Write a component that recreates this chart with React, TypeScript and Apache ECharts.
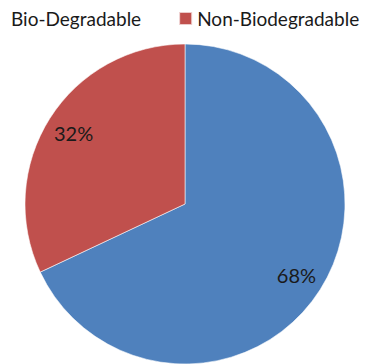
import React, { useEffect, useRef } from "react";
import * as echarts from "echarts";

// Share of waste by type
const categories = ["Bio-Degradable", "Non-Biodegradable"];
const shares = [68, 32];
const colors = ["#4F81BD", "#C0504D"];

const FONT = "Lato, 'Open Sans', sans-serif";

export default function App() {
  const ref = useRef<HTMLDivElement>(null);

  useEffect(() => {
    if (!ref.current) return;
    const chart = echarts.init(ref.current, undefined, { renderer: "svg" });
    const data = categories.map((name, i) => ({ name, value: shares[i] }));

    chart.setOption({
      animation: false,
      backgroundColor: "#ffffff",
      color: colors,
      legend: {
        left: -15,
        top: 9,
        padding: 0,
        width: 600,
        icon: "rect",
        itemWidth: 13,
        itemHeight: 13,
        itemGap: 37,
        selectedMode: false,
        formatter: (name: string) =>
          name === categories[0] ? `{gap|}${name}` : name,
        textStyle: {
          fontFamily: FONT,
          fontSize: 19,
          color: "#1a1a1a",
          rich: { gap: { width: 7 } },
        },
        data: categories,
      },
      series: [
        {
          type: "pie",
          center: [185, 204],
          radius: 160,
          startAngle: 90,
          clockwise: true,
          label: { show: false },
          labelLine: { show: false },
          itemStyle: { borderColor: "rgba(255,255,255,0.7)", borderWidth: 0.8 },
          emphasis: { disabled: true },
          data,
        },
        {
          // transparent ring that only carries the percentage labels
          type: "pie",
          center: [185, 204],
          radius: [98, 160],
          startAngle: 90,
          clockwise: true,
          silent: true,
          itemStyle: { color: "transparent", borderWidth: 0 },
          label: {
            show: true,
            position: "inside",
            formatter: "{d}%",
            fontFamily: FONT,
            fontSize: 20,
            color: "#1a1a1a",
          },
          labelLine: { show: false },
          emphasis: { disabled: true },
          data,
        },
      ],
    });

    return () => chart.dispose();
  }, []);

  return (
    <div
      ref={ref}
      style={{ position: "absolute", left: 0, top: 0, width: 372, height: 364 }}
    />
  );
}
